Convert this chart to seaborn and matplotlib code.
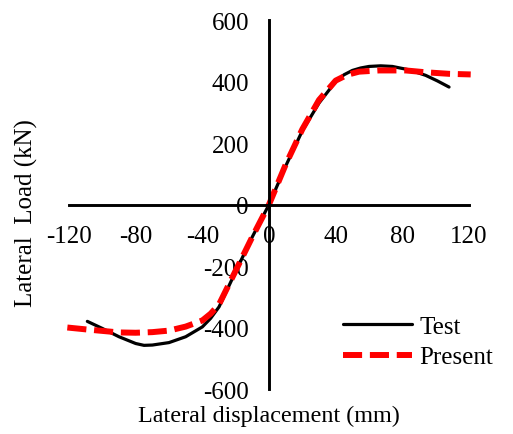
import numpy as np
import pandas as pd
import matplotlib
matplotlib.use("Agg")
import matplotlib.pyplot as plt
import seaborn as sns

test_x = [-109, -100, -90, -80, -75, -70, -60, -50, -40, -35, -30, -20, -10, 0, 10, 20, 30, 40, 45, 50, 55, 60, 67, 74, 84, 94, 101, 108]
test_y = [-380, -403, -430, -452, -458, -457, -449, -430, -398, -370, -333, -218, -105, 0, 125, 240, 330, 400, 422, 436, 444, 449, 451, 449, 438, 420, 402, 382]

pres_x = [-121, -110, -100, -90, -80, -70, -60, -50, -40, -35, -30, -20, -10, 0, 10, 20, 30, 40, 47, 54, 66, 82, 94, 108, 121]
pres_y = [-400, -406, -411, -416, -417, -415, -410, -397, -377, -355, -325, -215, -105, 0, 130, 245, 340, 403, 422, 432, 436, 436, 430, 425, 423]

x_ticks = [-120, -80, -40, 0, 40, 80, 120]
y_ticks = [-600, -400, -200, 0, 200, 400, 600]

sns.set_theme(style="white")
plt.rcParams['font.family'] = ['Liberation Serif', 'DejaVu Serif']
plt.rcParams['text.color'] = 'black'
plt.rcParams['axes.labelcolor'] = 'black'

fig = plt.figure(figsize=(5.13, 4.35), dpi=100)
ax = fig.add_axes([0.1345, 0.1034, 0.7798, 0.8483])

sns.lineplot(x=test_x, y=test_y, ax=ax, sort=False, estimator=None,
             color='black', linewidth=2.3, label='Test')
sns.lineplot(x=pres_x, y=pres_y, ax=ax, sort=False, estimator=None,
             color='#ff0000', linewidth=4.3, label='Present', clip_on=False)
ax.lines[0].set_solid_joinstyle('round')
ax.lines[1].set_dashes((3.2, 1.3))

ax.set_xlim(-120, 120)
ax.set_ylim(-600, 600)
ax.set_xticks(x_ticks)
ax.set_yticks(y_ticks)
ax.set_xticklabels([str(v) for v in x_ticks])
ax.set_yticklabels([str(v) for v in y_ticks])

for s in ['top', 'right']:
    ax.spines[s].set_visible(False)
ax.spines['left'].set_position(('data', 0))
ax.spines['bottom'].set_position(('data', 0))
for s in ['left', 'bottom']:
    ax.spines[s].set_color('black')
    ax.spines[s].set_linewidth(2.1)
ax.tick_params(axis='both', which='major', direction='out', length=4.5, width=2.1,
               color='black', labelcolor='black', labelsize=18)
ax.tick_params(axis='x', pad=10)
ax.tick_params(axis='y', pad=10)

fig.text(0.052, 0.51, 'Lateral  Load (kN)', rotation=90, ha='center', va='center',
         fontsize=18, color='black')
fig.text(0.525, 0.042, 'Lateral displacement (mm)', ha='center', va='center',
         fontsize=17.4, color='black')

leg = ax.legend(loc='center left', bbox_to_anchor=(0.649, 0.212), bbox_transform=fig.transFigure,
                frameon=False, fontsize=18, handlelength=2.75, handletextpad=0.3,
                labelspacing=0.32, borderaxespad=0)
for t in leg.get_texts():
    t.set_color('black')

fig.savefig('out.png', dpi=100)
